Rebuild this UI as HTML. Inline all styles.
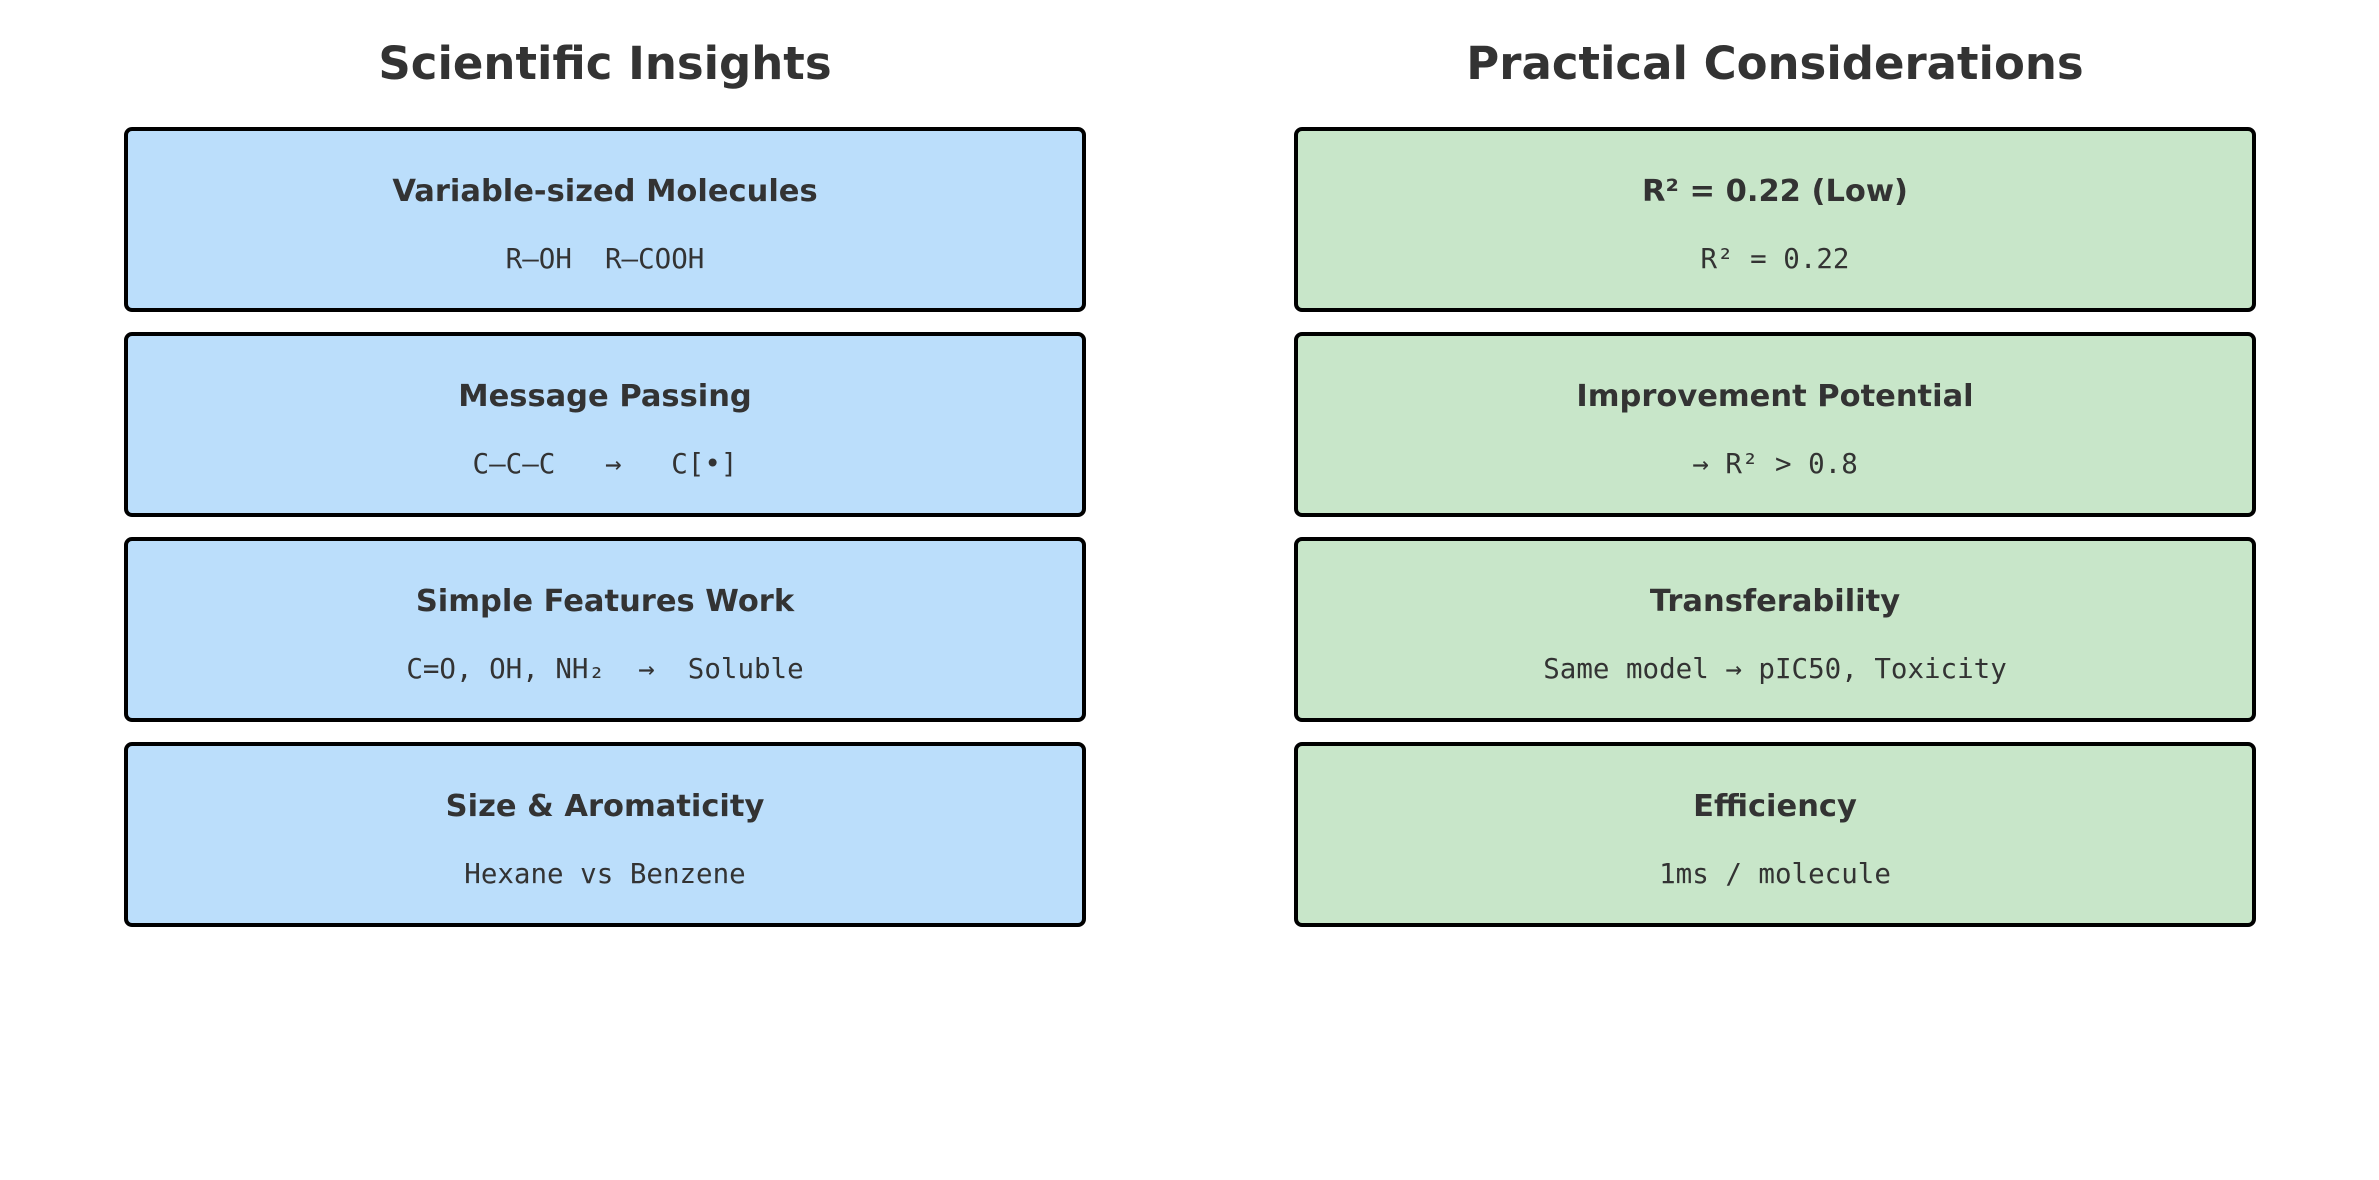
<!DOCTYPE html>
<html><head><meta charset="utf-8"><style>
html,body{margin:0;padding:0;background:#fff;}
svg{display:block;}
.h{font-family:"DejaVu Sans","Liberation Sans",sans-serif;font-weight:bold;fill:#333;text-anchor:middle;}
.m{font-family:"DejaVu Sans Mono","Liberation Mono",monospace;fill:#333;text-anchor:middle;}
</style></head><body>
<svg width="2379" height="1180" viewBox="0 0 2379 1180">
<text class="h" x="605" y="79" font-size="45">Scientific Insights</text>
<text class="h" x="1775" y="79" font-size="45">Practical Considerations</text>
<g stroke="#000" stroke-width="4">
<rect x="126" y="129" width="958" height="181" rx="6" fill="#bbdefb"/>
<rect x="126" y="334" width="958" height="181" rx="6" fill="#bbdefb"/>
<rect x="126" y="539" width="958" height="181" rx="6" fill="#bbdefb"/>
<rect x="126" y="744" width="958" height="181" rx="6" fill="#bbdefb"/>
<rect x="1296" y="129" width="958" height="181" rx="6" fill="#c8e6c9"/>
<rect x="1296" y="334" width="958" height="181" rx="6" fill="#c8e6c9"/>
<rect x="1296" y="539" width="958" height="181" rx="6" fill="#c8e6c9"/>
<rect x="1296" y="744" width="958" height="181" rx="6" fill="#c8e6c9"/>
</g>
<g font-size="30.5">
<text class="h" x="605" y="201">Variable-sized Molecules</text>
<text class="h" x="605" y="406">Message Passing</text>
<text class="h" x="605" y="611">Simple Features Work</text>
<text class="h" x="605" y="816">Size &amp; Aromaticity</text>
<text class="h" x="1775" y="201">R² = 0.22 (Low)</text>
<text class="h" x="1775" y="406">Improvement Potential</text>
<text class="h" x="1775" y="611">Transferability</text>
<text class="h" x="1775" y="816">Efficiency</text>
</g>
<g font-size="27.5">
<text class="m" x="605" y="268" xml:space="preserve">R–OH  R–COOH</text>
<text class="m" x="605" y="473" xml:space="preserve">C–C–C   →   C[•]</text>
<text class="m" x="605" y="678" xml:space="preserve">C=O, OH, NH₂  →  Soluble</text>
<text class="m" x="605" y="883">Hexane vs Benzene</text>
<text class="m" x="1775" y="268">R² = 0.22</text>
<text class="m" x="1775" y="473">→ R² &gt; 0.8</text>
<text class="m" x="1775" y="678">Same model → pIC50, Toxicity</text>
<text class="m" x="1775" y="883">1ms / molecule</text>
</g>
</svg>
</body></html>
